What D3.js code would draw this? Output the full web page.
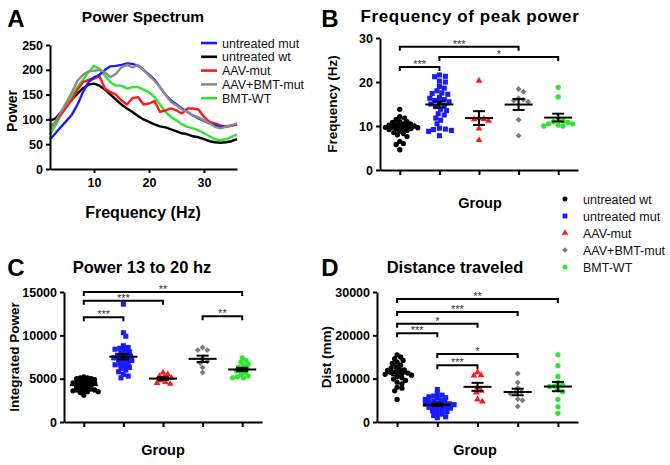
<!DOCTYPE html>
<html><head><meta charset="utf-8">
<script src="https://cdn.jsdelivr.net/npm/d3@7"></script>
<style>body{margin:0;background:#fff} text{font-family:"Liberation Sans",Arial,Helvetica,sans-serif}</style>
</head><body><svg id="c" width="670" height="465"></svg>
<script>
// ---------- DATA ----------
const freqHz = [2,3,4,5,6,7,8,9,10,11,12,13,14,15,16,17,18,19,20,21,22,23,24,25,26,27,28,29,30,31,32,33,34,35,36];
const specMut    = [60,72,85,97,110,130,155,175,185,190,200,207,208,210,213,212,208,200,190,180,165,150,138,130,122,115,108,102,97,92,88,85,86,88,90];
const specWt     = [97,102,115,128,140,152,163,170,172,168,160,150,140,130,122,115,107,100,95,90,86,84,80,76,72,70,66,64,60,56,54,53,54,56,60];
const specAav    = [85,95,110,125,140,160,175,180,182,187,162,155,150,138,130,143,145,130,132,137,115,118,122,118,112,122,122,120,105,95,92,88,85,87,90];
const specAavBmt = [80,95,115,135,155,178,190,197,198,200,195,185,192,205,210,205,210,200,188,178,165,150,135,128,120,115,108,104,98,92,85,82,85,88,92];
const specBmtWt  = [70,88,110,130,148,165,180,195,208,202,188,175,168,168,162,165,165,160,155,145,130,115,105,98,90,85,82,78,72,66,60,58,60,65,70];
const spectrumNames = ["untreated mut","untreated wt","AAV-mut","AAV+BMT-mut","BMT-WT"];

const groups = ["untreated wt","untreated mut","AAV-mut","AAV+BMT-mut","BMT-WT"];

// Panel B: frequency of peak power (Hz)
const peakWt     = [13.8,12.1,11.8,11.5,11.0,10.8,10.5,10.3,10.2,10.0,10.0,9.9,9.8,9.7,9.6,9.5,9.4,9.3,9.2,9.0,8.8,8.5,8.3,8.0,7.6,6.5,6.0,5.8,4.6,10.5,11.0];
const peakMut    = [21.6,21.3,21.2,20.2,20.0,19.0,18.6,18.0,17.5,17.4,17.2,16.5,16.3,16.0,15.8,15.5,15.3,15.0,14.7,14.4,13.8,13.5,12.8,12.5,11.8,11.3,10.5,9.5,9.3,9.2,9.0,8.8,7.8];
const peakAav    = [20.3,11.8,11.6,11.5,11.2,9.4,6.8];
const peakAavBmt = [18.4,17.8,16.3,16.0,15.8,15.5,11.4,7.8];
const peakBmtWt  = [18.8,16.6,11.4,11.0,10.8,10.5,10.2,10.0,10.0,10.5,11.2];

// Panel C: integrated power 13-20 Hz
const powWt     = [5200,5100,5100,5000,5000,4900,4800,4700,4700,4600,4500,4500,4400,4300,4200,4100,4000,3900,3800,3800,3700,3700,3600,3600,3500,3500,3400,3100,4200,4600];
const powMut    = [13600,10300,9900,8800,8500,8400,8300,8100,8000,7800,7600,7500,7400,7300,7200,7100,7000,6800,6700,6500,6300,6200,6000,5800,5500,5300,5100,6600,7700,8600];
const powAav    = [5700,5500,5300,5200,5100,4800,4600,4500,4400];
const powAavBmt = [8600,8300,8300,7300,7000,6800,6300,5700];
const powBmtWt  = [7400,7100,6900,6700,6500,6300,6200,6000,5900,5700,5500,5300,5200,5100,5100];

// Panel D: distance traveled (mm)
const distWt     = [15500,15000,14600,14200,13800,13500,13100,12700,12400,12100,11900,11600,11400,11200,11000,10800,10500,10200,9900,9600,9200,8800,8000,7800,7200,5200,12000,11300];
const distMut    = [7500,6500,6200,6000,5800,5600,5500,5200,5000,4800,4700,4500,4300,4200,4100,4000,3800,3600,3500,3400,3200,3000,2800,2600,2400,2000,1800,1500,1200,1000];
const distAav    = [11500,10800,10700,8000,7200,6800,5200,4700];
const distAavBmt = [11200,9100,7800,7000,6800,6500,5300,5000,3600];
const distBmtWt  = [15500,13000,10500,9000,8500,8300,7500,7000,5200,3500,2000,8200];

// significance brackets: [group index a, group index b, height value, label]
const sigB = [[0,1,23.4,"***"],[0,3,28.0,"***"],[1,4,25.7,"*"]];
const sigC = [[0,1,12100,"***"],[0,2,14000,"***"],[0,4,15000,"**"],[3,4,12200,"**"]];
const sigD = [[0,1,20500,"***"],[0,2,22700,"*"],[0,3,25400,"***"],[0,4,28400,"**"],[1,2,13100,"***"],[1,3,15700,"*"]];

// ---------- STYLE ----------
const specColors = ["#1a1aff","#000000","#ff1a1a","#8c8c8c","#2ee62e"];
const grpColors  = ["#000000","#1a1aff","#ff1a1a","#7a7a7a","#2ee62e"];
const grpSymbols = [d3.symbolCircle,d3.symbolSquare,d3.symbolTriangle,d3.symbolDiamond2||d3.symbolDiamond,d3.symbolCircle];
const grpSizes   = [22,26,20,22,22];

const svg = d3.select("#c");

function styleAxis(g){
  g.selectAll("path,line").attr("stroke","#000").attr("stroke-width",2);
  g.selectAll("text").attr("font-weight","bold").attr("font-size","12.5px").attr("fill","#000")
   .style("font-family",'"Liberation Sans",Arial,sans-serif');
}
function txt(x,y,s,opt={}){
  const t = svg.append("text").attr("x",x).attr("y",y).text(s)
    .attr("font-size",opt.size||"15px").attr("font-weight",opt.weight||"bold")
    .attr("text-anchor",opt.anchor||"middle").attr("fill",opt.fill||"#000");
  if(opt.ls) t.attr("letter-spacing",opt.ls);
  if(opt.rotate) t.attr("transform",`rotate(-90,${x},${y})`);
  return t;
}

// ---------- PANEL A ----------
{
  const x = d3.scaleLinear().domain([2,36]).range([50,237]);
  const y = d3.scaleLinear().domain([0,250]).range([169,45]);
  const series = [specMut,specWt,specAav,specAavBmt,specBmtWt];
  const line = d3.line().x((d,i)=>x(freqHz[i])).y(d=>y(d));
  [1,4,2,0,3].forEach(k=>{
    svg.append("path").datum(series[k]).attr("d",line).attr("fill","none")
      .attr("stroke",specColors[k]).attr("stroke-width",2.4).attr("stroke-linejoin","round");
  });
  svg.append("g").attr("transform","translate(0,169)")
    .call(d3.axisBottom(x).tickValues([10,20,30]).tickSize(4).tickSizeOuter(0).tickPadding(5)).call(styleAxis);
  svg.append("g").attr("transform","translate(50,0)")
    .call(d3.axisLeft(y).tickValues([0,50,100,150,200,250]).tickSize(4).tickSizeOuter(0).tickPadding(3)).call(styleAxis);
  spectrumNames.forEach((n,i)=>{
    const ly = 43 + i*13.8;
    svg.append("line").attr("x1",201).attr("x2",217).attr("y1",ly).attr("y2",ly)
      .attr("stroke",specColors[i]).attr("stroke-width",2.6);
    txt(222,ly+4.5,n,{size:"12.5px",weight:"normal",anchor:"start",fill:"#111"});
  });
  txt(143,22,"Power Spectrum",{size:"15.5px"});
  txt(17,111,"Power",{size:"14px",rotate:true});
  txt(143,218,"Frequency (Hz)",{size:"16px"});
  txt(16,27,"A",{size:"24px"});
}

// ---------- dot plot helper ----------
function swarm(vals, y, cx, minDist){
  const pts = vals.map(v=>({v,y:y(v)})).sort((a,b)=>d3.descending(a.v,b.v));
  const placed=[];
  pts.forEach(p=>{
    for(let k=0;k<200;k++){
      const off = (k%2?1:-1)*Math.ceil(k/2)*1.2;
      const ok = placed.every(q=>Math.hypot(q.x-(cx+off),q.y-p.y)>=minDist);
      if(ok){p.x=cx+off;break;}
    }
    placed.push(p);
  });
  return placed;
}

function dotPanel(cfg){
  const x = d3.scalePoint().domain(groups).range(cfg.xr).padding(0.5);
  const y = d3.scaleLinear().domain([0,cfg.max]).range([422-cfg.oy,cfg.top]);
  const y0 = 422-cfg.oy;
  cfg.data.forEach((vals,gi)=>{
    const cx = x(groups[gi]);
    const pts = swarm(vals,y,cx,cfg.md[gi]);
    svg.append("g").selectAll("path").data(pts).join("path")
      .attr("transform",d=>`translate(${d.x},${d.y})`)
      .attr("d",d3.symbol().type(grpSymbols[gi]).size(grpSizes[gi]))
      .attr("fill",grpColors[gi]);
    const m = d3.mean(vals), sem = d3.deviation(vals)/Math.sqrt(vals.length);
    const g = svg.append("g").attr("stroke","#000").attr("stroke-width",2);
    g.append("line").attr("x1",cx-14).attr("x2",cx+14).attr("y1",y(m)).attr("y2",y(m));
    g.append("line").attr("x1",cx).attr("x2",cx).attr("y1",y(m-sem)).attr("y2",y(m+sem));
    g.append("line").attr("x1",cx-6).attr("x2",cx+6).attr("y1",y(m-sem)).attr("y2",y(m-sem));
    g.append("line").attr("x1",cx-6).attr("x2",cx+6).attr("y1",y(m+sem)).attr("y2",y(m+sem));
  });
  cfg.sig.forEach(([a,b,h,lab])=>{
    const xa=x(groups[a]), xb=x(groups[b]), yy=y(h);
    svg.append("path").attr("d",`M${xa},${yy+4}V${yy}H${xb}V${yy+4}`)
      .attr("fill","none").attr("stroke","#000").attr("stroke-width",2);
    txt((xa+xb)/2,yy+1,lab,{size:"11px",weight:"normal",fill:"#333"});
  });
  svg.append("g").attr("transform",`translate(0,${y0})`)
    .call(d3.axisBottom(x).tickFormat("").tickSize(5).tickSizeOuter(0)).call(styleAxis);
  svg.append("g").attr("transform",`translate(${cfg.xr[0]},0)`)
    .call(d3.axisLeft(y).tickValues(cfg.ticks).tickFormat(d3.format("d")).tickSize(4).tickSizeOuter(0).tickPadding(3)).call(styleAxis);
  return x;
}

// ---------- PANEL B ----------
dotPanel({xr:[380,578],max:30,oy:252,top:38,ticks:[0,10,20,30],
  data:[peakWt,peakMut,peakAav,peakAavBmt,peakBmtWt],sig:sigB,md:[4.0,5.0,4.6,4.6,4.6]});
txt(470,22,"Frequency of peak power",{size:"17px",ls:"0.6px"});
txt(337,104,"Frequency (Hz)",{size:"13.5px",rotate:true});
txt(480,208,"Group",{size:"14.5px"});
txt(330,27,"B",{size:"24px"});
groups.forEach((n,i)=>{
  const ly = 199 + i*17;
  svg.append("path").attr("transform",`translate(565,${ly})`)
    .attr("d",d3.symbol().type(grpSymbols[i]).size(grpSizes[i]*0.9)).attr("fill",grpColors[i]);
  txt(583,ly+4.5,n,{size:"12.5px",weight:"normal",anchor:"start",fill:"#111"});
});

// ---------- PANEL C ----------
dotPanel({xr:[64,262],max:15000,oy:0,top:292,ticks:[0,5000,10000,15000],
  data:[powWt,powMut,powAav,powAavBmt,powBmtWt],sig:sigC,md:[3.4,4.2,4.4,4.6,4.2]});
txt(142,273,"Power 13 to 20 hz",{size:"16.5px"});
txt(19,357,"Integrated Power",{size:"13.5px",rotate:true});
txt(163,455,"Group",{size:"14.5px"});
txt(16,276,"C",{size:"24px"});

// ---------- PANEL D ----------
dotPanel({xr:[377,578],max:30000,oy:0,top:292,ticks:[0,10000,20000,30000],
  data:[distWt,distMut,distAav,distAavBmt,distBmtWt],sig:sigD,md:[4.2,4.2,4.6,4.6,4.6]});
txt(455,273,"Distance traveled",{size:"16.5px"});
txt(331,357,"Dist (mm)",{size:"13.5px",rotate:true});
txt(475,455,"Group",{size:"14.5px"});
txt(330,276,"D",{size:"24px"});
</script></body></html>
